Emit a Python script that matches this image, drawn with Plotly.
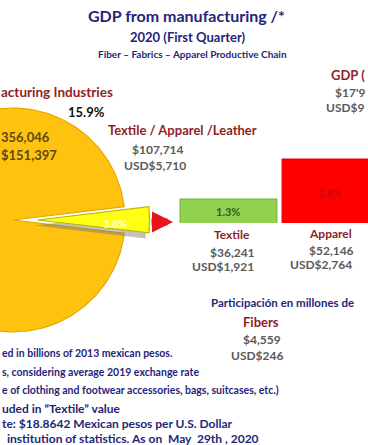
import numpy as np
import plotly.graph_objects as go

W, H = 368, 445

# ---------------- data ----------------
pie_labels = ["Other manufacturing", "Textile / Apparel /Leather"]
pie_shares = [96.2, 3.8]            # % of manufacturing GDP
bar_categories = ["Textile", "Apparel"]
bar_shares = [1.3, 1.8]             # % labels on the boxes
bar_pesos = ["$36,241", "$52,146"]
bar_usd = ["USD$1,921", "USD$2,764"]
manuf_share_gdp = "15.9%"
manuf_pesos = "356,046"          # visible part (cut at left edge)
manuf_usd = "$151,397"           # visible part (cut at left edge)
tal_pesos = "$107,714"
tal_usd = "USD$5,710"
gdp_pesos = "$17'9"              # visible part (cut at right edge)
gdp_usd = "USD$9"                # visible part (cut at right edge)
fib_pesos = "$4,559"
fib_usd = "USD$246"

def P(px, py):
    return px / W, 1 - py / H

# ---------------- pie geometry (scale 112 px per unit) ----------------
scale = 112.0
cx_px, cy_px = 13, 220
xr = [-cx_px / scale, (W - cx_px) / scale]
yr = [-(H - cy_px) / scale, cy_px / scale]

theta_small = pie_shares[1] / sum(pie_shares) * 2 * np.pi
a0, a1 = theta_small / 2, 2 * np.pi - theta_small / 2

fig = go.Figure()

# main slice
t = np.linspace(a0, a1, 300)
mx = np.concatenate([[0], np.cos(t), [0]])
my = np.concatenate([[0], np.sin(t), [0]])
fig.add_trace(go.Scatter(x=mx, y=my, fill="toself", mode="lines",
                         fillcolor="#FFC20E", line=dict(color="#E6A800", width=1.2),
                         hoverinfo="skip", showlegend=False, xaxis="x", yaxis="y"))

# pulled slice (shadow + slice)
pull = 0.22
t2 = np.linspace(-theta_small / 2, theta_small / 2, 60)
sx = np.concatenate([[0], np.cos(t2), [0]]) + pull
sy = np.concatenate([[0], np.sin(t2), [0]])
fig.add_trace(go.Scatter(x=sx - 0.03, y=sy - 0.05, fill="toself", mode="lines",
                         fillcolor="rgba(120,120,120,0.45)", line=dict(width=0),
                         hoverinfo="skip", showlegend=False, xaxis="x", yaxis="y"))
fig.add_trace(go.Scatter(x=sx, y=sy, fill="toself", mode="lines",
                         fillcolor="#FFFF14", line=dict(color="#B8B800", width=1.2),
                         hoverinfo="skip", showlegend=False, xaxis="x", yaxis="y"))

# ---------------- bars ----------------
bar_unit = 102.0
tex_center = 228.5
x2r = [-tex_center / bar_unit, (W - tex_center) / bar_unit]
bottom_px = 223
y_unit = 80.0
y2r = [1.0, 1.0 + bottom_px / y_unit]

fig.add_trace(go.Bar(x=[0, 1], y=bar_shares, width=0.95,
                     marker=dict(color=["#92D050", "#FF0000"],
                                 line=dict(color=["#6FAE3A", "#E00000"], width=1)),
                     hoverinfo="skip", showlegend=False, xaxis="x2", yaxis="y2"))

fig.update_layout(
    width=W, height=H, margin=dict(l=0, r=0, t=0, b=0),
    paper_bgcolor="white", plot_bgcolor="rgba(0,0,0,0)",
    xaxis=dict(range=xr, domain=[0, 1], visible=False, fixedrange=True),
    yaxis=dict(range=yr, domain=[0, 1], visible=False, fixedrange=True),
    xaxis2=dict(range=x2r, domain=[0, 1], visible=False, anchor="y2", overlaying="x"),
    yaxis2=dict(range=y2r, domain=[(H - bottom_px) / H, 1], visible=False, anchor="x2"),
    font=dict(family="Lato, Open Sans, sans-serif"),
)

NAVY = "#1F2678"
DRED = "#8E1F26"
GRAY = "#5A5A5A"
BROWN = "#5C4A16"

def txt(s, px, py, size, color, xanchor="center", bold=True):
    x, y = P(px, py)
    fig.add_annotation(text=f"<b>{s}</b>" if bold else s, x=x, y=y, xref="paper", yref="paper",
                       xanchor=xanchor, yanchor="middle", showarrow=False, borderpad=0,
                       font=dict(size=size, color=color))

# titles
txt("GDP from manufacturing /*", 186, 16, 16, NAVY)
txt("2020 (First Quarter)", 188, 37, 13, NAVY)
txt("Fiber – Fabrics – Apparel Productive Chain", 192, 54, 10, NAVY)

# GDP total (right, cut by the frame)
txt("GDP (", 366, 75, 13, DRED, xanchor="right")
txt(gdp_pesos, 366, 92, 12, GRAY, xanchor="right")
txt(gdp_usd, 366, 107, 12, GRAY, xanchor="right")

# manufacturing
txt("acturing Industries", 0, 92, 13.5, DRED, xanchor="left")
txt(manuf_share_gdp, 86, 112, 13, "#111111")
txt(manuf_pesos, 0, 137, 13, BROWN, xanchor="left")
txt(manuf_usd, 0, 155, 13, BROWN, xanchor="left")

# textile/apparel/leather
txt("Textile / Apparel /Leather", 107, 130, 13, DRED, xanchor="left")
txt(tal_pesos, 158, 149, 12, GRAY)
txt(tal_usd, 155, 165, 12, GRAY)
txt(f"{pie_shares[1]}%", 115, 223, 11, "rgba(255,255,255,0.85)")

# bars text
txt(f"{bar_shares[0]}%", 228, 211, 11, "#2E5E1C")
txt(f"{bar_shares[1]}%", 330, 192, 11, "#C40A0A")
txt(bar_categories[0], 232, 235, 12, DRED)
txt(bar_pesos[0], 232, 252, 12, GRAY)
txt(bar_usd[0], 223, 266, 12, GRAY)
txt(bar_categories[1], 330, 233, 12, DRED)
txt(bar_pesos[1], 331, 250, 12, GRAY)
txt(bar_usd[1], 321, 264, 12, GRAY)

# arrow
ax_, ay_ = P(173, 222)
fig.add_annotation(x=ax_, y=ay_, ax=-23, ay=0, xref="paper", yref="paper",
                   axref="pixel", ayref="pixel",
                   showarrow=True, arrowhead=2, arrowsize=0.6, arrowwidth=7,
                   arrowcolor="#E8141B", text="")

# participation / fibers
txt("Participación en millones de", 210, 302, 11.5, NAVY, xanchor="left")
txt("Fibers", 261, 322, 13, DRED)
txt(fib_pesos, 262, 339, 12, GRAY)
txt(fib_usd, 257, 355, 12, GRAY)

# footnotes (visible parts; the left side is cut by the frame)
txt("ed in billions of 2013 mexican pesos.", 1, 353, 10.5, NAVY, xanchor="left")
txt("s, considering average 2019 exchange rate", 1, 372, 10.5, NAVY, xanchor="left")
txt("e of clothing and footwear accessories, bags, suitcases, etc.)", 1, 390, 10.5, NAVY, xanchor="left")
txt("uded in “Textile” value", 1, 408, 12, NAVY, xanchor="left")
txt("te: $18.8642 Mexican pesos per U.S. Dollar", 1, 423, 12, NAVY, xanchor="left")
txt("institution of statistics. As on  May  29th , 2020", 6, 438, 12, NAVY, xanchor="left")

fig.write_html("out.html", config={"displayModeBar": False},
               post_script="document.body.style.margin='0';")
